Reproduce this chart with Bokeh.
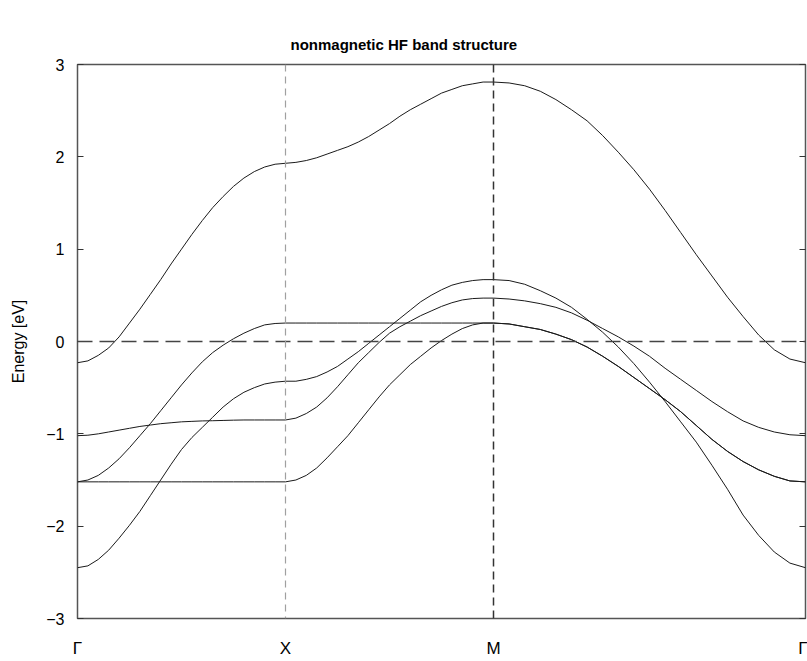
from bokeh.plotting import figure
from bokeh.models import Range1d, FixedTicker, LinearAxis, Span, CustomLabelingPolicy
from bokeh.embed import file_html
from bokeh.resources import INLINE

# ---- data ----
k_points = [0.0, 1.0, 2.0, 3.5]
k_labels = ["Γ", "X", "M", "Γ"]
y_ticks = [-3, -2, -1, 0, 1, 2, 3]
y_tick_labels = ["−3", "−2", "−1", "0", "1", "2", "3"]

k_GX = [0.0, 0.05, 0.1, 0.15, 0.2, 0.25, 0.3, 0.35, 0.4, 0.45, 0.5,
        0.55, 0.6, 0.65, 0.7, 0.75, 0.8, 0.85, 0.9, 0.95, 1.0]
k_XM = [1.0, 1.05, 1.1, 1.15, 1.2, 1.25, 1.3, 1.35, 1.4, 1.45, 1.5,
        1.55, 1.6, 1.65, 1.7, 1.75, 1.8, 1.85, 1.9, 1.95, 2.0]
k_MG = [2.0, 2.075, 2.15, 2.225, 2.3, 2.375, 2.45, 2.525, 2.6, 2.675, 2.75,
        2.825, 2.9, 2.975, 3.05, 3.125, 3.2, 3.275, 3.35, 3.425, 3.5]

A_GX = [-0.23, -0.21, -0.15, -0.07, 0.05, 0.20, 0.35, 0.51, 0.67, 0.84, 1.00,
        1.16, 1.31, 1.45, 1.57, 1.68, 1.77, 1.84, 1.89, 1.92, 1.93]
A_XM = [1.93, 1.94, 1.96, 1.99, 2.03, 2.07, 2.11, 2.16, 2.22, 2.29, 2.36,
        2.44, 2.51, 2.57, 2.63, 2.69, 2.73, 2.77, 2.79, 2.81, 2.81]
A_MG = [2.81, 2.80, 2.77, 2.71, 2.62, 2.51, 2.39, 2.23, 2.05, 1.86, 1.65,
        1.42, 1.18, 0.94, 0.71, 0.48, 0.27, 0.07, -0.09, -0.19, -0.23]

B_GX = [-1.52, -1.50, -1.45, -1.37, -1.27, -1.15, -1.02, -0.89, -0.75, -0.61, -0.47,
        -0.34, -0.22, -0.12, -0.04, 0.03, 0.09, 0.14, 0.18, 0.195, 0.20]
B_XM = [0.20, 0.20, 0.20, 0.20, 0.20, 0.20, 0.20, 0.20, 0.20, 0.20, 0.20,
        0.20, 0.20, 0.20, 0.20, 0.20, 0.20, 0.20, 0.20, 0.20, 0.20]
B_MG = [0.20, 0.19, 0.16, 0.13, 0.08, 0.02, -0.06, -0.16, -0.27, -0.39, -0.51,
        -0.63, -0.76, -0.91, -1.06, -1.19, -1.30, -1.39, -1.46, -1.51, -1.52]

C_GX = [-2.45, -2.43, -2.36, -2.26, -2.13, -1.99, -1.84, -1.67, -1.50, -1.33, -1.17,
        -1.04, -0.93, -0.82, -0.71, -0.62, -0.55, -0.50, -0.46, -0.44, -0.43]
C_XM = [-0.43, -0.43, -0.41, -0.38, -0.33, -0.27, -0.19, -0.11, -0.02, 0.07, 0.16,
        0.25, 0.34, 0.43, 0.50, 0.56, 0.61, 0.64, 0.66, 0.67, 0.67]
C_MG = [0.67, 0.66, 0.62, 0.55, 0.47, 0.37, 0.24, 0.10, -0.06, -0.24, -0.44,
        -0.65, -0.87, -1.09, -1.34, -1.60, -1.88, -2.10, -2.28, -2.40, -2.45]

D_GX = [-1.02, -1.015, -1.00, -0.98, -0.96, -0.94, -0.92, -0.905, -0.89, -0.88, -0.87,
        -0.865, -0.86, -0.858, -0.855, -0.852, -0.85, -0.85, -0.85, -0.85, -0.85]
D_XM = [-0.85, -0.83, -0.78, -0.71, -0.61, -0.49, -0.36, -0.23, -0.12, -0.01, 0.09,
        0.16, 0.22, 0.28, 0.33, 0.38, 0.42, 0.45, 0.465, 0.47, 0.47]
D_MG = [0.47, 0.46, 0.44, 0.41, 0.37, 0.31, 0.23, 0.14, 0.05, -0.05, -0.16,
        -0.29, -0.41, -0.53, -0.65, -0.76, -0.86, -0.93, -0.98, -1.01, -1.02]

E_GX = [-1.52, -1.52, -1.52, -1.52, -1.52, -1.52, -1.52, -1.52, -1.52, -1.52, -1.52,
        -1.52, -1.52, -1.52, -1.52, -1.52, -1.52, -1.52, -1.52, -1.52, -1.52]
E_XM = [-1.52, -1.50, -1.45, -1.37, -1.26, -1.14, -1.02, -0.88, -0.74, -0.60, -0.47,
        -0.36, -0.25, -0.16, -0.07, 0.01, 0.08, 0.14, 0.18, 0.20, 0.20]
E_MG = [0.20, 0.19, 0.16, 0.13, 0.08, 0.02, -0.06, -0.16, -0.27, -0.39, -0.51,
        -0.63, -0.76, -0.91, -1.06, -1.19, -1.30, -1.39, -1.46, -1.51, -1.52]

bands = [
    (A_GX, A_XM, A_MG),
    (B_GX, B_XM, B_MG),
    (C_GX, C_XM, C_MG),
    (D_GX, D_XM, D_MG),
    (E_GX, E_XM, E_MG),
]

FONT = "Liberation Sans"

p = figure(width=807, height=660, output_backend="svg", toolbar_location=None,
           x_range=Range1d(k_points[0], k_points[-1]), y_range=Range1d(-3, 3),
           min_border_left=77, min_border_right=2, min_border_top=64, min_border_bottom=42)
p.title.text = "nonmagnetic HF band structure"
p.title.align = "left"
p.title.text_font = FONT
p.title.text_font_size = "15px"
p.title.text_font_style = "bold"
p.title.text_color = "#000000"
p.title.standoff = 24
p.title.offset = 213

p.grid.visible = False
p.outline_line_color = "#555555"
p.outline_line_width = 1.5
p.background_fill_color = "white"
p.border_fill_color = "white"

k_all = k_GX + k_XM[1:] + k_MG[1:]
for gx, xm, mg in bands:
    p.line(k_all, gx + xm[1:] + mg[1:], line_color="#1a1a1a", line_width=1)

# reference lines
p.add_layout(Span(location=y_ticks[3], dimension="width", line_color="#444444",
                  line_width=1.5, line_dash="15 7"))
p.add_layout(Span(location=k_points[1], dimension="height", line_color="#a0a0a0",
                  line_width=1.2, line_dash="7 5"))
p.add_layout(Span(location=k_points[2], dimension="height", line_color="#333333",
                  line_width=1.5, line_dash="8 5"))

# axes
p.xaxis.ticker = FixedTicker(ticks=k_points)
p.xaxis.major_label_overrides = {k: lab for k, lab in zip(k_points, k_labels)}
p.xaxis.major_tick_in = 0
p.xaxis.major_tick_out = 0
p.xaxis.minor_tick_line_color = None
p.xaxis.axis_line_color = None
p.xaxis.major_label_standoff = 20
p.xaxis.major_label_text_font = FONT
p.xaxis.major_label_text_font_size = "17px"
p.xaxis.major_label_text_color = "#000000"

p.yaxis.ticker = FixedTicker(ticks=y_ticks)
p.yaxis.major_label_overrides = {t: lab for t, lab in zip(y_ticks, y_tick_labels)}
p.yaxis.major_tick_in = 6
p.yaxis.major_tick_out = 0
p.yaxis.major_tick_line_color = "#333333"
p.yaxis.minor_tick_line_color = None
p.yaxis.axis_line_color = None
p.yaxis.major_label_standoff = 13
p.yaxis.major_label_text_font = FONT
p.yaxis.major_label_text_font_size = "16px"
p.yaxis.major_label_text_color = "#000000"
p.yaxis.axis_label = "Energy [eV]"
p.yaxis.axis_label_text_font = FONT
p.yaxis.axis_label_text_font_size = "16px"
p.yaxis.axis_label_text_font_style = "normal"
p.yaxis.axis_label_text_color = "#000000"
p.yaxis.axis_label_standoff = 16

no_labels = CustomLabelingPolicy(code="""
const all = [...indices]
for (const i of all) { indices.unset(i) }
return indices
""")
right = LinearAxis(ticker=FixedTicker(ticks=y_ticks), major_tick_in=6, major_tick_out=0,
                   major_tick_line_color="#333333", minor_tick_line_color=None,
                   axis_line_color=None, major_label_policy=no_labels,
                   major_label_overrides={t: "" for t in y_ticks},
                   major_label_standoff=0)
p.add_layout(right, "right")

open("out.html", "w").write(file_html(p, INLINE))
